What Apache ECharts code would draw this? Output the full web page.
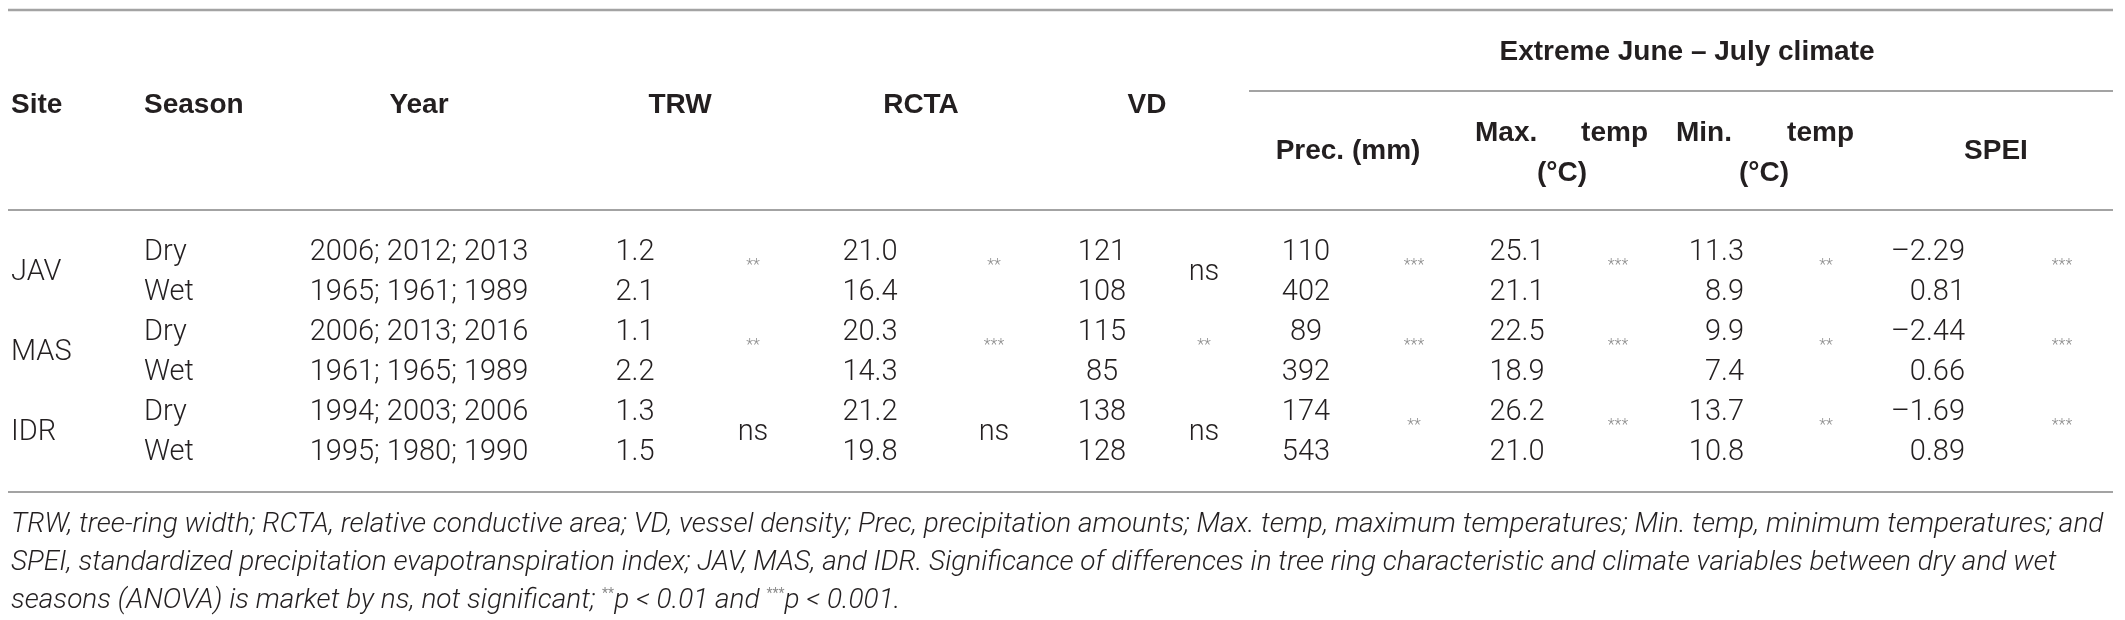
<!DOCTYPE html>
<html lang="en">

<head>
    <meta charset="UTF-8">
    <script src="https://cdn.jsdelivr.net/npm/echarts@6/dist/echarts.min.js"></script>
    <style>
        body {
            margin: 0;
            background-color: #ffffff;
        }
    </style>
</head>

<body>
    <div id="main" style="width: 2125px;height:620px;"></div>
    <script type="text/javascript">
        // table values, one row per site/season (Dry, Wet for JAV, MAS, IDR)
        const sites = ['JAV', 'MAS', 'IDR'];
        const seasons = ['Dry', 'Wet'];
        const years = ['2006; 2012; 2013', '1965; 1961; 1989', '2006; 2013; 2016',
            '1961; 1965; 1989', '1994; 2003; 2006', '1995; 1980; 1990'];
        const trw = [1.2, 2.1, 1.1, 2.2, 1.3, 1.5];
        const rcta = [21.0, 16.4, 20.3, 14.3, 21.2, 19.8];
        const vd = [121, 108, 115, 85, 138, 128];
        const prec = [110, 402, 89, 392, 174, 543];
        const tmax = [25.1, 21.1, 22.5, 18.9, 26.2, 21.0];
        const tmin = [11.3, 8.9, 9.9, 7.4, 13.7, 10.8];
        const spei = [-2.29, 0.81, -2.44, 0.66, -1.69, 0.89];

        // significance per site
        const trwSig = ['**', '**', 'ns'];
        const rctaSig = ['**', '***', 'ns'];
        const vdSig = ['ns', '**', 'ns'];
        const precSig = ['***', '***', '**'];
        const tmaxSig = ['***', '***', '***'];
        const tminSig = ['**', '**', '**'];
        const speiSig = ['***', '***', '***'];

        const footnote = [
            'TRW, tree-ring width; RCTA, relative conductive area; VD, vessel density; Prec, precipitation amounts; Max. temp, maximum temperatures; Min. temp, minimum temperatures; and',
            'SPEI, standardized precipitation evapotranspiration index; JAV, MAS, and IDR. Significance of differences in tree ring characteristic and climate variables between dry and wet',
            'seasons (ANOVA) is market by ns, not significant; {s|**}p < 0.01 and {s|***}p < 0.001.'
        ];

        // layout (page pixels)
        const ROW0 = 253, ROW_H = 40;
        const dark = '#231f20';
        const ruleColor = '#a3a3a3';
        const bodyFont = 'Roboto, "Liberation Sans", sans-serif';
        const headFont = '"Liberation Sans", Arial, sans-serif';

        const cells = [];
        function cell(x, y, text, align, kind) {
            cells.push({ x: x, y: y, text: text, align: align || 'center', kind: kind || 'body' });
        }
        function fmt1(v) { return v.toFixed(1); }
        function fmtSpei(v) { return (v < 0 ? '\u2013' : '') + Math.abs(v).toFixed(2); }

        // header
        cell(11, 105, 'Site', 'left', 'head');
        cell(144, 105, 'Season', 'left', 'head');
        cell(419, 105, 'Year', 'center', 'head');
        cell(680, 105, 'TRW', 'center', 'head');
        cell(921, 105, 'RCTA', 'center', 'head');
        cell(1147, 105, 'VD', 'center', 'head');
        cell(1687, 52, 'Extreme June \u2013 July climate', 'center', 'head');
        cell(1348, 151, 'Prec. (mm)', 'center', 'head');
        cell(1475, 133, 'Max.', 'left', 'head');
        cell(1648, 133, 'temp', 'right', 'head');
        cell(1562, 173, '(\u00b0C)', 'center', 'head');
        cell(1676, 133, 'Min.', 'left', 'head');
        cell(1854, 133, 'temp', 'right', 'head');
        cell(1764, 173, '(\u00b0C)', 'center', 'head');
        cell(1996, 151, 'SPEI', 'center', 'head');

        // body rows
        years.forEach(function (yr, i) {
            const y = ROW0 + i * ROW_H;
            cell(144, y, seasons[i % 2], 'left');
            cell(419, y, yr, 'center');
            cell(635, y, fmt1(trw[i]), 'center');
            cell(870, y, fmt1(rcta[i]), 'center');
            cell(1102, y, String(vd[i]), 'center');
            cell(1306, y, String(prec[i]), 'center');
            cell(1517, y, fmt1(tmax[i]), 'center');
            cell(1744, y, fmt1(tmin[i]), 'right');
            cell(1965, y, fmtSpei(spei[i]), 'right');
        });
        const sigCols = [[753, trwSig], [994, rctaSig], [1204, vdSig], [1414, precSig],
            [1618, tmaxSig], [1826, tminSig], [2062, speiSig]];
        sites.forEach(function (s, k) {
            const mid = ROW0 + (2 * k + 0.5) * ROW_H;
            cell(11, mid, s, 'left');
            sigCols.forEach(function (c) {
                const v = c[1][k];
                if (v === 'ns') cell(c[0], mid, v, 'center');
                else cell(c[0], mid - 7, v, 'center', 'star');
            });
        });
        footnote.forEach(function (t, i) {
            cell(11, 525 + i * 38, t, 'left', 'note');
        });

        // horizontal rules: [x1, x2, y, width]
        const rules = [[8, 2113, 10, 2.5], [1249, 2113, 91, 2], [8, 2113, 210, 2], [8, 2113, 492, 2]];

        function styleFor(c) {
            if (c.kind === 'head') return { fontFamily: headFont, fontWeight: 'bold', fontSize: 28, fill: dark };
            if (c.kind === 'star') return { fontFamily: bodyFont, fontWeight: 300, fontSize: 16, fill: '#8c8c8c' };
            if (c.kind === 'note') return {
                fontFamily: bodyFont, fontWeight: 300, fontStyle: 'italic', fontSize: 28, fill: dark,
                rich: { s: { fontFamily: bodyFont, fontSize: 14, fill: '#8c8c8c', verticalAlign: 'top', padding: [0, 0, 12, 0] } }
            };
            return { fontFamily: bodyFont, fontWeight: 300, fontSize: 29, fill: dark };
        }

        var myChart = echarts.init(document.getElementById('main'));
        myChart.setOption({
            animation: false,
            backgroundColor: '#ffffff',
            grid: { left: 0, right: 0, top: 0, bottom: 0 },
            xAxis: { type: 'value', min: 0, max: 2125, show: false },
            yAxis: { type: 'value', min: 0, max: 620, inverse: true, show: false },
            series: [{
                type: 'custom',
                silent: true,
                data: rules,
                renderItem: function (params, api) {
                    const a = api.coord([api.value(0), api.value(2)]);
                    const b = api.coord([api.value(1), api.value(2)]);
                    return {
                        type: 'line',
                        shape: { x1: a[0], y1: a[1], x2: b[0], y2: b[1] },
                        style: { stroke: ruleColor, lineWidth: api.value(3) }
                    };
                }
            }, {
                type: 'custom',
                silent: true,
                data: cells.map(function (c, i) { return [c.x, c.y, i]; }),
                renderItem: function (params, api) {
                    const c = cells[api.value(2)];
                    const p = api.coord([api.value(0), api.value(1)]);
                    const st = styleFor(c);
                    st.text = c.text;
                    st.align = c.align;
                    st.verticalAlign = 'middle';
                    return { type: 'text', x: p[0], y: p[1], style: st };
                }
            }]
        });
    </script>
</body>

</html>
